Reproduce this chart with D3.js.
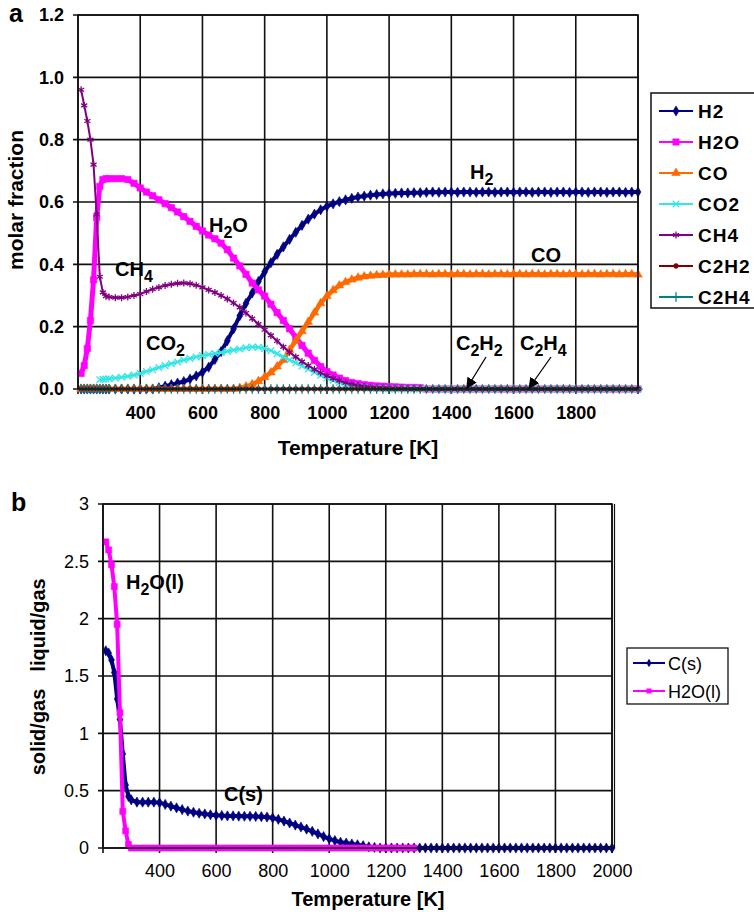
<!DOCTYPE html>
<html>
<head>
<meta charset="utf-8">
<script src="https://cdn.jsdelivr.net/npm/d3@7"></script>
<style>
  body { margin: 0; background: #fff; }
  text { font-family: "Liberation Sans", Arial, sans-serif; }
</style>
</head>
<body>
<svg id="chart" width="754" height="912"></svg>
<script>
// ---- data ----
const temps = [
  210, 220, 230, 240, 250, 260, 270, 280, 290, 300,
  320, 340, 360, 380, 400, 420, 440, 460, 480, 500,
  520, 540, 560, 580, 600, 620, 640, 660, 680, 700,
  720, 740, 760, 780, 800, 820, 840, 860, 880, 900,
  920, 940, 960, 980, 1000, 1020, 1040, 1060, 1080, 1100,
  1120, 1140, 1160, 1180, 1200, 1220, 1240, 1260, 1280, 1300,
  1320, 1340, 1360, 1380, 1400, 1420, 1440, 1460, 1480, 1500,
  1520, 1540, 1560, 1580, 1600, 1620, 1640, 1660, 1680, 1700,
  1720, 1740, 1760, 1780, 1800, 1820, 1840, 1860, 1880, 1900,
  1920, 1940, 1960, 1980, 2000
];

// panel a: molar fractions
const h2 = [
  0, 0, 0, 0, 0, 0, 0, 0, 0, 0,
  0, 0, 0, 0, 0, 0, 0, 0.004, 0.009, 0.014,
  0.019, 0.024, 0.032, 0.042, 0.054, 0.07, 0.095, 0.12, 0.155, 0.193,
  0.235, 0.275, 0.308, 0.345, 0.376, 0.405, 0.432, 0.456, 0.48, 0.503,
  0.525, 0.545, 0.561, 0.575, 0.586, 0.594, 0.601, 0.607, 0.612, 0.616,
  0.619, 0.622, 0.624, 0.626, 0.627, 0.628, 0.629, 0.629, 0.63, 0.63,
  0.631, 0.632, 0.631, 0.632, 0.632, 0.631, 0.632, 0.632, 0.631, 0.632,
  0.632, 0.631, 0.632, 0.632, 0.631, 0.632, 0.632, 0.631, 0.632, 0.632,
  0.631, 0.632, 0.632, 0.631, 0.632, 0.632, 0.631, 0.632, 0.632, 0.631,
  0.632, 0.632, 0.631, 0.632, 0.632
];
const h2o = [
  0.05, 0.075, 0.13, 0.22, 0.35, 0.55, 0.65, 0.672, 0.675, 0.675,
  0.675, 0.675, 0.672, 0.66, 0.645, 0.632, 0.62, 0.607, 0.595, 0.582,
  0.568, 0.553, 0.538, 0.522, 0.507, 0.494, 0.482, 0.468, 0.447, 0.42,
  0.395, 0.368, 0.34, 0.318, 0.298, 0.272, 0.245, 0.22, 0.193, 0.166,
  0.14, 0.115, 0.092, 0.072, 0.056, 0.045, 0.035, 0.027, 0.021, 0.017,
  0.014, 0.012, 0.01, 0.009, 0.008, 0.007, 0.006, 0.005, 0.005, 0.004,
  0, 0, 0, 0, 0, 0, 0, 0, 0, 0,
  0, 0, 0, 0, 0, 0, 0, 0, 0, 0,
  0, 0, 0, 0, 0, 0, 0, 0, 0, 0,
  0, 0, 0, 0, 0
];
const co = [
  0, 0, 0, 0, 0, 0, 0, 0, 0, 0,
  0, 0, 0, 0, 0, 0, 0, 0, 0, 0,
  0, 0, 0, 0, 0, 0, 0, 0, 0, 0,
  0.003, 0.008, 0.015, 0.025, 0.038, 0.053, 0.072, 0.093, 0.125, 0.155,
  0.185, 0.215, 0.245, 0.275, 0.298, 0.317, 0.332, 0.343, 0.351, 0.357,
  0.361, 0.363, 0.365, 0.366, 0.367, 0.367, 0.367, 0.367, 0.368, 0.368,
  0.368, 0.367, 0.368, 0.368, 0.367, 0.368, 0.368, 0.367, 0.368, 0.368,
  0.367, 0.368, 0.368, 0.367, 0.368, 0.368, 0.367, 0.368, 0.368, 0.367,
  0.368, 0.368, 0.367, 0.368, 0.368, 0.367, 0.368, 0.368, 0.367, 0.368,
  0.368, 0.367, 0.368, 0.368, 0.367
];
const co2 = [
  null, null, null, null, null, null, 0.03, 0.031, 0.032, 0.033,
  0.035, 0.038, 0.041, 0.045, 0.05, 0.056, 0.062, 0.069, 0.075, 0.081,
  0.087, 0.093, 0.098, 0.103, 0.107, 0.111, 0.114, 0.117, 0.121, 0.125,
  0.128, 0.132, 0.135, 0.134, 0.13, 0.123, 0.113, 0.103, 0.093, 0.084,
  0.074, 0.064, 0.054, 0.044, 0.035, 0.028, 0.021, 0.015, 0.011, 0.008,
  0.005, 0.003, 0.002, 0.001, 0, 0, 0, 0, 0, 0,
  0, 0, 0, 0, 0, 0, 0, 0, 0, 0,
  0, 0, 0, 0, 0, 0, 0, 0, 0, 0,
  0, 0, 0, 0, 0, 0, 0, 0, 0, 0,
  0, 0, 0, 0, 0
];
const ch4 = [
  0.96, 0.91, 0.86, 0.80, 0.72, 0.56, 0.36, 0.31, 0.298, 0.295,
  0.293, 0.293, 0.295, 0.30, 0.305, 0.313, 0.32, 0.326, 0.332, 0.336,
  0.339, 0.34, 0.338, 0.333, 0.326, 0.318, 0.31, 0.30, 0.289, 0.276,
  0.262, 0.244, 0.226, 0.208, 0.19, 0.172, 0.154, 0.135, 0.118, 0.103,
  0.088, 0.075, 0.063, 0.052, 0.042, 0.034, 0.027, 0.02, 0.015, 0.011,
  0.008, 0.006, 0.004, 0.003, 0.002, 0.001, 0.001, 0, 0, 0,
  0, 0, 0, 0, 0, 0, 0, 0, 0, 0,
  0, 0, 0, 0, 0, 0, 0, 0, 0, 0,
  0, 0, 0, 0, 0, 0, 0, 0, 0, 0,
  0, 0, 0, 0, 0
];
const c2h2 = [
  0, 0, 0, 0, 0, 0, 0, 0, 0, 0,
  0, 0, 0, 0, 0, 0, 0, 0, 0, 0,
  0, 0, 0, 0, 0, 0, 0, 0, 0, 0,
  0, 0, 0, 0, 0, 0, 0, 0, 0, 0,
  0, 0, 0, 0, 0, 0, 0, 0, 0, 0,
  0, 0, 0, 0, 0, 0, 0, 0, 0, 0,
  0, 0, 0, 0, 0, 0, 0, 0, 0, 0,
  0, 0, 0, 0, 0, 0, 0, 0, 0, 0,
  0, 0, 0, 0, 0, 0, 0, 0, 0, 0,
  0, 0, 0, 0, 0
];
const c2h4 = [
  0, 0, 0, 0, 0, 0, 0, 0, 0, 0,
  0, 0, 0, 0, 0, 0, 0, 0, 0, 0,
  0, 0, 0, 0, 0, 0, 0, 0, 0, 0,
  0, 0, 0, 0, 0, 0, 0, 0, 0, 0,
  0, 0, 0, 0, 0, 0, 0, 0, 0, 0,
  0, 0, 0, 0, 0, 0, 0, 0, 0, 0,
  0, 0, 0, 0, 0, 0, 0, 0, 0, 0,
  0, 0, 0, 0, 0, 0, 0, 0, 0, 0,
  0, 0, 0, 0, 0, 0, 0, 0, 0, 0,
  0, 0, 0, 0, 0
];

// panel b: condensed phases
const carbonSolid = [
  1.72, 1.70, 1.64, 1.53, 1.30, 1.12, 0.82, 0.55, 0.45, 0.42,
  0.40, 0.40, 0.40, 0.40, 0.395, 0.38, 0.365, 0.35, 0.335, 0.322,
  0.312, 0.303, 0.297, 0.29, 0.285, 0.283, 0.28, 0.28, 0.278, 0.277,
  0.277, 0.275, 0.273, 0.27, 0.262, 0.25, 0.235, 0.218, 0.2, 0.183,
  0.165, 0.145, 0.123, 0.10, 0.08, 0.065, 0.05, 0.043, 0.035, 0.028,
  0.02, 0.01, 0.005, 0, 0, 0, 0, 0, 0, 0,
  0, 0, 0, 0, 0, 0, 0, 0, 0, 0,
  0, 0, 0, 0, 0, 0, 0, 0, 0, 0,
  0, 0, 0, 0, 0, 0, 0, 0, 0, 0,
  0, 0, 0, 0, 0
];
const waterLiquid = [
  2.67, 2.60, 2.47, 2.28, 1.95, 1.18, 0.32, 0.15, 0.03, 0,
  0, 0, 0, 0, 0, 0, 0, 0, 0, 0,
  0, 0, 0, 0, 0, 0, 0, 0, 0, 0,
  0, 0, 0, 0, 0, 0, 0, 0, 0, 0,
  0, 0, 0, 0, 0, 0, 0, 0, 0, 0,
  0, 0, 0, 0, 0, 0, 0, 0, 0, 0,
  null, null, null, null, null, null, null, null, null, null,
  null, null, null, null, null, null, null, null, null, null,
  null, null, null, null, null, null, null, null, null, null,
  null, null, null, null, null
];

const xTicks = [200, 400, 600, 800, 1000, 1200, 1400, 1600, 1800, 2000];
const yTicksA = [0, 0.2, 0.4, 0.6, 0.8, 1.0, 1.2];
const yTicksB = [0, 0.5, 1, 1.5, 2, 2.5, 3];

// width = band thickness of the dense curve in the reference
const seriesA = [
  { name: 'H2',   values: h2,   color: '#000080', symbol: d3.symbolDiamond, size: 30, fill: true,  width: 4 },
  { name: 'H2O',  values: h2o,  color: '#ff00ff', symbol: d3.symbolSquare,  size: 40, fill: true,  width: 5 },
  { name: 'CO',   values: co,   color: '#ff6a00', symbol: d3.symbolTriangle, size: 32, fill: true, width: 4.5 },
  { name: 'CO2',  values: co2,  color: '#33e6e6', symbol: d3.symbolTimes,   size: 30, fill: false, width: 2.5 },
  { name: 'CH4',  values: ch4,  color: '#800080', symbol: d3.symbolAsterisk, size: 34, fill: false, width: 2 },
  { name: 'C2H2', values: c2h2, color: '#800000', symbol: d3.symbolCircle,  size: 18, fill: true,  width: 3 },
  { name: 'C2H4', values: c2h4, color: '#008080', symbol: d3.symbolPlus,    size: 30, fill: false, width: 1 }
];
const seriesB = [
  { name: 'C(s)',   values: carbonSolid, color: '#000080', symbol: d3.symbolDiamond, size: 30, fill: true, width: 4 },
  { name: 'H2O(l)', values: waterLiquid, color: '#ff00ff', symbol: d3.symbolSquare,  size: 36, fill: true, width: 4 }
];

const svg = d3.select('#chart');
const FONT = '"Liberation Sans", Arial, sans-serif';

function drawPanel(box, yMax, yTicks, series, opts) {
  const x = d3.scaleLinear().domain([200, 2000]).range([box.left, box.right]);
  const y = d3.scaleLinear().domain([0, yMax]).range([box.bottom, box.top]);
  const g = svg.append('g');

  // grid
  g.selectAll('line.gy').data(yTicks).join('line')
    .attr('x1', box.left - 5).attr('x2', box.right)
    .attr('y1', d => y(d)).attr('y2', d => y(d))
    .attr('stroke', '#111').attr('stroke-width', 1.6);
  g.selectAll('line.gx').data(xTicks).join('line')
    .attr('x1', d => x(d)).attr('x2', d => x(d))
    .attr('y1', box.top).attr('y2', box.bottom + 5)
    .attr('stroke', '#111').attr('stroke-width', 1.6);
  if (opts.doubleRight) {
    g.append('line').attr('x1', box.right + 2.5).attr('x2', box.right + 2.5)
      .attr('y1', box.top).attr('y2', box.bottom).attr('stroke', '#111').attr('stroke-width', 1.2);
  }

  // axis labels via d3 axes
  const xAxis = d3.axisBottom(x).tickValues(xTicks).tickSize(0).tickPadding(opts.xPad)
    .tickFormat(d => opts.xLabelFilter(d) ? d : '');
  const ax = g.append('g').attr('transform', `translate(0,${box.bottom})`).call(xAxis);
  ax.select('.domain').remove();
  ax.selectAll('text').attr('font-family', FONT).attr('font-size', opts.tickSize)
    .attr('font-weight', opts.tickWeight).attr('fill', '#000');

  const yAxis = d3.axisLeft(y).tickValues(yTicks).tickSize(0).tickPadding(opts.yPad)
    .tickFormat(opts.yFormat);
  const ay = g.append('g').attr('transform', `translate(${box.left},0)`).call(yAxis);
  ay.select('.domain').remove();
  ay.selectAll('text').attr('font-family', FONT).attr('font-size', opts.tickSize)
    .attr('font-weight', opts.tickWeight).attr('fill', '#000');

  // series
  series.forEach(s => {
    const pts = temps.map((t, i) => ({ t, v: s.values[i] })).filter(p => p.v !== null);
    const line = d3.line().x(d => x(d.t)).y(d => y(d.v));
    g.append('path').datum(pts).attr('d', line)
      .attr('fill', 'none').attr('stroke', s.color).attr('stroke-width', s.width)
      .attr('stroke-linejoin', 'round');
    const sym = d3.symbol().type(s.symbol).size(s.size);
    g.append('g').selectAll('path').data(pts).join('path')
      .attr('transform', d => `translate(${x(d.t)},${y(d.v)})`)
      .attr('d', sym)
      .attr('fill', s.fill ? s.color : 'none')
      .attr('stroke', s.color).attr('stroke-width', s.fill ? 0.6 : 1.3);
  });

  return { x, y, g };
}

// label with subscripts: parts = [[text, isSub], ...]
function subLabel(parent, xPos, yPos, parts, size, weight) {
  const t = parent.append('text').attr('x', xPos).attr('y', yPos)
    .attr('font-family', FONT).attr('font-size', size).attr('font-weight', weight || 700).attr('fill', '#000');
  let shifted = false;
  parts.forEach(([txt, sub]) => {
    const sp = t.append('tspan').text(txt);
    if (sub && !shifted) { sp.attr('dy', 6).attr('font-size', size * 0.8); shifted = true; }
    else if (!sub && shifted) { sp.attr('dy', -6); shifted = false; }
    else if (sub) sp.attr('font-size', size * 0.8);
  });
  return t;
}

// ---------- panel a ----------
const boxA = { left: 78, right: 638, top: 15, bottom: 389 };
const A = drawPanel(boxA, 1.2, yTicksA, seriesA, {
  xPad: 17, yPad: 14, tickSize: 18, tickWeight: 700,
  xLabelFilter: d => d > 200 && d < 2000,
  yFormat: d3.format('.1f')
});
// frame
svg.append('rect').attr('x', boxA.left).attr('y', boxA.top)
  .attr('width', boxA.right - boxA.left).attr('height', boxA.bottom - boxA.top)
  .attr('fill', 'none').attr('stroke', '#111').attr('stroke-width', 1.6);

svg.append('text').attr('x', 9).attr('y', 22).text('a')
  .attr('font-family', '"Liberation Serif", "Times New Roman", serif').attr('font-size', 25).attr('font-weight', 700);
svg.append('text').attr('transform', 'translate(23,200) rotate(-90)').attr('text-anchor', 'middle')
  .text('molar fraction').attr('font-family', FONT).attr('font-size', 21).attr('font-weight', 700);
svg.append('text').attr('x', 358).attr('y', 455).attr('text-anchor', 'middle')
  .text('Temperature [K]').attr('font-family', FONT).attr('font-size', 21).attr('font-weight', 700);

// curve annotations
subLabel(svg, 470, 179, [['H', 0], ['2', 1]], 20);
subLabel(svg, 209, 232, [['H', 0], ['2', 1], ['O', 0]], 20);
subLabel(svg, 115, 276, [['CH', 0], ['4', 1]], 20);
subLabel(svg, 146, 350, [['CO', 0], ['2', 1]], 20);
subLabel(svg, 531, 262, [['CO', 0]], 20);
subLabel(svg, 456, 350, [['C', 0], ['2', 1], ['H', 0], ['2', 1]], 20);
subLabel(svg, 520, 350, [['C', 0], ['2', 1], ['H', 0], ['4', 1]], 20);

// arrows to the C2H2 / C2H4 traces
svg.append('defs').append('marker').attr('id', 'arrow')
  .attr('viewBox', '0 0 10 10').attr('refX', 9).attr('refY', 5)
  .attr('markerWidth', 11).attr('markerHeight', 11).attr('markerUnits', 'userSpaceOnUse')
  .attr('orient', 'auto')
  .append('path').attr('d', 'M0,0 L10,5 L0,10 z').attr('fill', '#000');
[[1450, 486], [1650, 551]].forEach(([t, fromX]) => {
  svg.append('line').attr('x1', fromX).attr('y1', 357)
    .attr('x2', A.x(t)).attr('y2', A.y(0) - 1)
    .attr('stroke', '#000').attr('stroke-width', 1.3).attr('marker-end', 'url(#arrow)');
});

// legend a
const legA = svg.append('g');
legA.append('rect').attr('x', 651).attr('y', 93).attr('width', 130).attr('height', 215)
  .attr('fill', '#fff').attr('stroke', '#111').attr('stroke-width', 1.5);
seriesA.forEach((s, i) => {
  const yy = 111 + i * 31;
  legA.append('line').attr('x1', 659).attr('x2', 693).attr('y1', yy).attr('y2', yy)
    .attr('stroke', s.color).attr('stroke-width', 2);
  legA.append('path').attr('transform', `translate(676,${yy})`)
    .attr('d', d3.symbol().type(s.symbol).size(s.size)())
    .attr('fill', s.fill ? s.color : 'none').attr('stroke', s.color).attr('stroke-width', s.fill ? 0.6 : 1.3);
  legA.append('text').attr('x', 698).attr('y', yy + 7).text(s.name)
    .attr('font-family', FONT).attr('font-size', 19).attr('font-weight', 700).attr('letter-spacing', 1);
});

// ---------- panel b ----------
const boxB = { left: 103, right: 612, top: 504, bottom: 848 };
const B = drawPanel(boxB, 3, yTicksB, seriesB, {
  xPad: 16, yPad: 14, tickSize: 18, tickWeight: 400,
  xLabelFilter: d => d > 200,
  yFormat: d => String(d),
  doubleRight: true
});
svg.append('rect').attr('x', boxB.left).attr('y', boxB.top)
  .attr('width', boxB.right - boxB.left).attr('height', boxB.bottom - boxB.top)
  .attr('fill', 'none').attr('stroke', '#111').attr('stroke-width', 1.6);

svg.append('text').attr('x', 11).attr('y', 511).text('b')
  .attr('font-family', '"Liberation Serif", "Times New Roman", serif').attr('font-size', 25).attr('font-weight', 700);
svg.append('text').attr('transform', 'translate(45,625) rotate(-90)').attr('text-anchor', 'middle')
  .text('liquid/gas').attr('font-family', FONT).attr('font-size', 20).attr('font-weight', 700);
svg.append('text').attr('transform', 'translate(45,732) rotate(-90)').attr('text-anchor', 'middle')
  .text('solid/gas').attr('font-family', FONT).attr('font-size', 20).attr('font-weight', 700);
svg.append('text').attr('x', 368).attr('y', 906).attr('text-anchor', 'middle')
  .text('Temperature [K]').attr('font-family', FONT).attr('font-size', 20).attr('font-weight', 700);

subLabel(svg, 126, 589, [['H', 0], ['2', 1], ['O(l)', 0]], 20);
subLabel(svg, 224, 801, [['C(s)', 0]], 20);

// legend b
const legB = svg.append('g');
legB.append('rect').attr('x', 627).attr('y', 648).attr('width', 101).attr('height', 56)
  .attr('fill', '#fff').attr('stroke', '#111').attr('stroke-width', 1.3);
seriesB.forEach((s, i) => {
  const yy = 663 + i * 28;
  legB.append('line').attr('x1', 633).attr('x2', 665).attr('y1', yy).attr('y2', yy)
    .attr('stroke', s.color).attr('stroke-width', 2);
  legB.append('path').attr('transform', `translate(649,${yy})`)
    .attr('d', d3.symbol().type(s.symbol).size(s.size * 0.7)())
    .attr('fill', s.color);
  legB.append('text').attr('x', 668).attr('y', yy + 7).text(s.name)
    .attr('font-family', FONT).attr('font-size', 18);
});
</script>
</body>
</html>
